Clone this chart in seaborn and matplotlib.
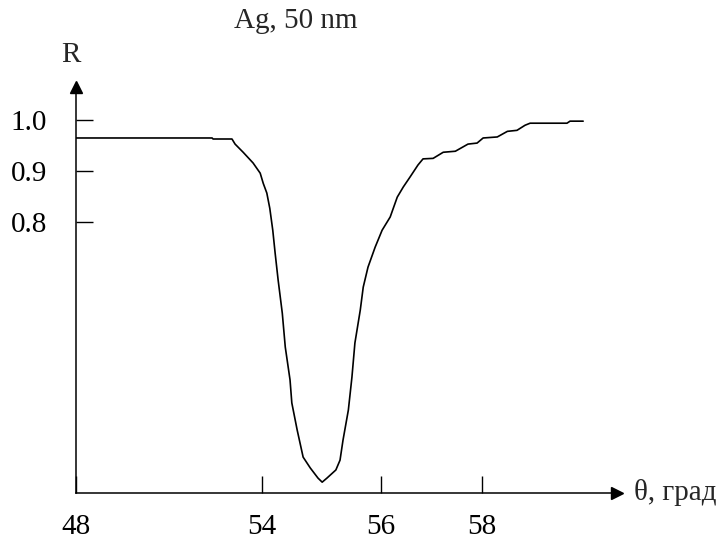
import numpy as np
import pandas as pd
import matplotlib
matplotlib.use("Agg")
import matplotlib.pyplot as plt
import seaborn as sns

# reflectance curve (angle in degrees, R)
theta = [48.00, 52.39, 52.42, 53.03, 53.13, 53.39, 53.71, 53.94, 54.02, 54.08,
         54.13, 54.18, 54.22, 54.27, 54.34, 54.39, 54.47, 54.50, 54.59, 54.69,
         54.81, 54.94, 55.01, 55.09, 55.24, 55.31, 55.36, 55.45, 55.51, 55.56,
         55.65, 55.70, 55.78, 55.90, 56.02, 56.18, 56.32, 56.44, 56.57, 56.73,
         56.83, 57.03, 57.23, 57.47, 57.72, 57.90, 58.02, 58.30, 58.50, 58.69,
         58.85, 58.95, 59.68, 59.74, 60.00]
refl = [0.965, 0.965, 0.963, 0.963, 0.953, 0.937, 0.916, 0.896, 0.876, 0.857,
        0.827, 0.776, 0.708, 0.629, 0.531, 0.431, 0.334, 0.266, 0.186, 0.106,
        0.074, 0.044, 0.032, 0.044, 0.068, 0.097, 0.156, 0.245, 0.342, 0.443,
        0.540, 0.608, 0.667, 0.726, 0.776, 0.810, 0.849, 0.869, 0.888, 0.912,
        0.924, 0.925, 0.937, 0.939, 0.953, 0.955, 0.965, 0.967, 0.978, 0.980,
        0.990, 0.994, 0.994, 0.998, 0.998]

x_ticks = [48, 54, 56, 58]
x_tick_labels = ["48", "54", "56", "58"]
y_ticks = [0.8, 0.9, 1.0]
y_tick_labels = ["0.8", "0.9", "1.0"]

title = "Ag, 50 nm"
x_label = "θ, град"
y_label = "R"

df = pd.DataFrame({"theta": theta, "R": refl})

sns.set_style("white")
plt.rcParams["font.family"] = ["Liberation Serif", "DejaVu Serif"]
plt.rcParams["font.size"] = 21

# the drawing is schematic: axes are stretched piecewise
X_KNOTS = [48, 54, 56, 58, 61]
X_DRAW = [0, 186, 305, 406, 557.5]
Y_KNOTS = [0, 0.8, 0.9, 1.0, 1.2]
Y_DRAW = [0, 271, 322, 373, 475]


def x_fwd(v):
    return np.interp(v, X_KNOTS, X_DRAW)


def x_inv(v):
    return np.interp(v, X_DRAW, X_KNOTS)


def y_fwd(v):
    return np.interp(v, Y_KNOTS, Y_DRAW)


def y_inv(v):
    return np.interp(v, Y_DRAW, Y_KNOTS)


fig = plt.figure(figsize=(7.24, 5.42), dpi=100)
ax = fig.add_axes([76 / 724, 1 - 493 / 542, (617 - 76) / 724, (493 - 87) / 542])
ax.set_xscale("function", functions=(x_fwd, x_inv))
ax.set_yscale("function", functions=(y_fwd, y_inv))

sns.lineplot(data=df, x="theta", y="R", ax=ax, color="black", linewidth=1.2,
             sort=False, estimator=None)

ax.set_xlim(48, 60.67)
ax.set_ylim(0, 1.065)
ax.set_xticks(x_ticks)
ax.set_xticklabels(x_tick_labels)
ax.set_yticks(y_ticks)
ax.set_yticklabels(y_tick_labels)
ax.minorticks_off()
ax.tick_params(axis="both", direction="in", length=12, width=1.0, color="black",
               labelsize=21, labelcolor="black", bottom=True, left=True)
ax.tick_params(axis="x", pad=15)
ax.tick_params(axis="y", pad=21)
ax.set_xlabel("")
ax.set_ylabel("")

for side in ["top", "right"]:
    ax.spines[side].set_visible(False)
for side in ["left", "bottom"]:
    ax.spines[side].set_color("black")
    ax.spines[side].set_linewidth(1.1)

# arrow heads on the axes
ax.plot(1, 0, ">k", transform=ax.transAxes, clip_on=False, markersize=9)
ax.plot(0, 1, "^k", transform=ax.transAxes, clip_on=False, markersize=9)

ax.annotate(x_label, xy=(1, 0), xycoords="axes fraction", xytext=(12, 0),
            textcoords="offset points", ha="left", va="center", fontsize=21)
ax.annotate(y_label, xy=(0, 1), xycoords="axes fraction", xytext=(-4, 23),
            textcoords="offset points", ha="center", va="center", fontsize=21)
fig.text(296 / 724, 1 - 21 / 542, title, ha="center", va="center", fontsize=21)

fig.savefig("out.png", dpi=100)
plt.close(fig)
